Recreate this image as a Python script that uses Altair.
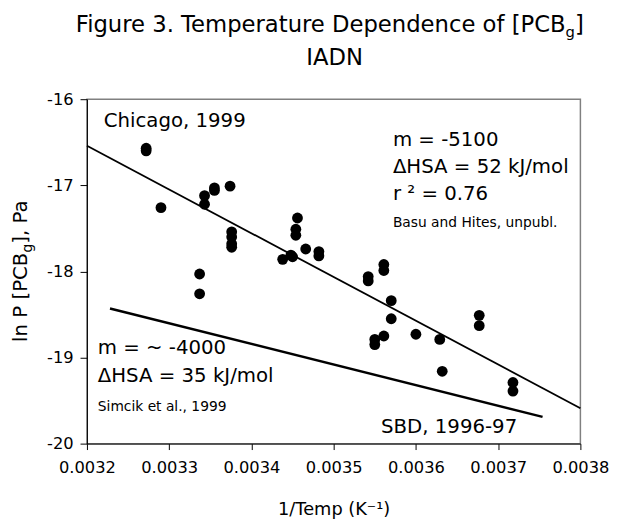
import altair as alt
import pandas as pd

FONT = "DejaVu Sans"

# --- data ---
inv_temp = [0.003272, 0.003272, 0.003290, 0.003337, 0.003337, 0.003343, 0.003343,
            0.003355, 0.003355, 0.003374, 0.003376, 0.003376, 0.003376, 0.003376,
            0.003438, 0.003448, 0.003450, 0.003456, 0.003454, 0.003454, 0.003466,
            0.003482, 0.003482, 0.003542, 0.003542, 0.003561, 0.003561, 0.003570,
            0.003570, 0.003550, 0.003550, 0.003561, 0.003600, 0.003629, 0.003632,
            0.003677, 0.003677, 0.003718, 0.003718]
ln_p = [-16.57, -16.60, -17.26, -18.03, -18.26, -17.12, -17.22,
        -17.03, -17.06, -17.01, -17.54, -17.60, -17.68, -17.72,
        -17.86, -17.81, -17.83, -17.38, -17.51, -17.58, -17.74,
        -17.77, -17.82, -18.06, -18.11, -17.92, -17.99, -18.34,
        -18.55, -18.79, -18.85, -18.75, -18.73, -18.79, -19.16,
        -18.51, -18.63, -19.29, -19.39]

chicago_fit_x = [0.0032, 0.0038]
chicago_fit_y = [-16.54, -19.59]
sbd_fit_x = [0.003228, 0.003754]
sbd_fit_y = [-18.43, -19.69]

x_ticks = [0.0032, 0.0033, 0.0034, 0.0035, 0.0036, 0.0037, 0.0038]
y_ticks = [-20, -19, -18, -17, -16]

pts = pd.DataFrame({"inv_temp": inv_temp, "ln_p": ln_p})
fit1 = pd.DataFrame({"inv_temp": chicago_fit_x, "ln_p": chicago_fit_y})
fit2 = pd.DataFrame({"inv_temp": sbd_fit_x, "ln_p": sbd_fit_y})

x_enc = alt.X("inv_temp:Q",
              scale=alt.Scale(domain=[0.0032, 0.0038], nice=False, zero=False),
              axis=alt.Axis(values=x_ticks, format=".4f", title="1/Temp (K\u207b\u00b9)",
                            titleY=72, titleBaseline="alphabetic",
                            titleFontSize=18, titleFontWeight="normal",
                            tickSize=6, labelPadding=10, labelFlush=False))
y_enc = alt.Y("ln_p:Q",
              scale=alt.Scale(domain=[-20, -16], nice=False, zero=False),
              axis=alt.Axis(values=y_ticks, labelExpr="'' + datum.value", title=None,
                            tickSize=7, labelPadding=7, labelFlush=False))

points = alt.Chart(pts).mark_circle(size=120, color="black", opacity=1).encode(x=x_enc, y=y_enc)
line1 = alt.Chart(fit1).mark_line(color="black", strokeWidth=1.8).encode(x=x_enc, y=y_enc)
line2 = alt.Chart(fit2).mark_line(color="black", strokeWidth=2.5).encode(x=x_enc, y=y_enc)


def label(txt, x, y, size, align="left", angle=None):
    kw = dict(align=align, baseline="alphabetic", fontSize=size, font=FONT, color="black")
    if angle is not None:
        kw["angle"] = angle
    return alt.Chart(pd.DataFrame({"t": [txt]})).mark_text(**kw).encode(
        x=alt.value(x), y=alt.value(y), text="t:N")


texts = [
    # title with subscript
    label("Figure 3. Temperature Dependence of [PCB", 485, -68, 23, align="right"),
    label("g", 485, -63, 15),
    label("]", 494.5, -68, 23),
    label("IADN", 251, -35, 23, align="center"),
    # y-axis title with subscript (rotated)
    label("ln P [PCB", -61, 246, 20, angle=270),
    label("g", -56, 155.4, 14, angle=270),
    label("], Pa", -61, 146.5, 20, angle=270),
    # annotations
    label("Chicago, 1999", 17, 28, 20),
    label("m = -5100", 310, 47, 20),
    label("\u0394HSA = 52 kJ/mol", 310, 75, 20),
    label("r \u00b2 = 0.76", 310, 102, 20),
    label("Basu and Hites, unpubl.", 310, 130, 14),
    label("m = ~ -4000", 11, 258, 20),
    label("\u0394HSA = 35 kJ/mol", 11, 287, 20),
    label("Simcik et al., 1999", 11, 316, 14),
    label("SBD, 1996-97", 298, 338, 20),
]

chart = alt.layer(points, line1, line2, *texts).properties(
    width=500, height=349,
    autosize=alt.AutoSizeParams(type="none"),
    padding={"left": 80, "top": 89, "right": 30, "bottom": 75},
).configure_view(
    stroke="#808080", strokeWidth=1.5
).configure_axis(
    grid=False, domainColor="black", domainWidth=1, tickColor="black", tickWidth=1,
    labelFont=FONT, labelFontSize=16.5, labelColor="black",
    titleFont=FONT, titleColor="black"
)

chart.save("out.html", embed_options={"renderer": "svg", "actions": False})
